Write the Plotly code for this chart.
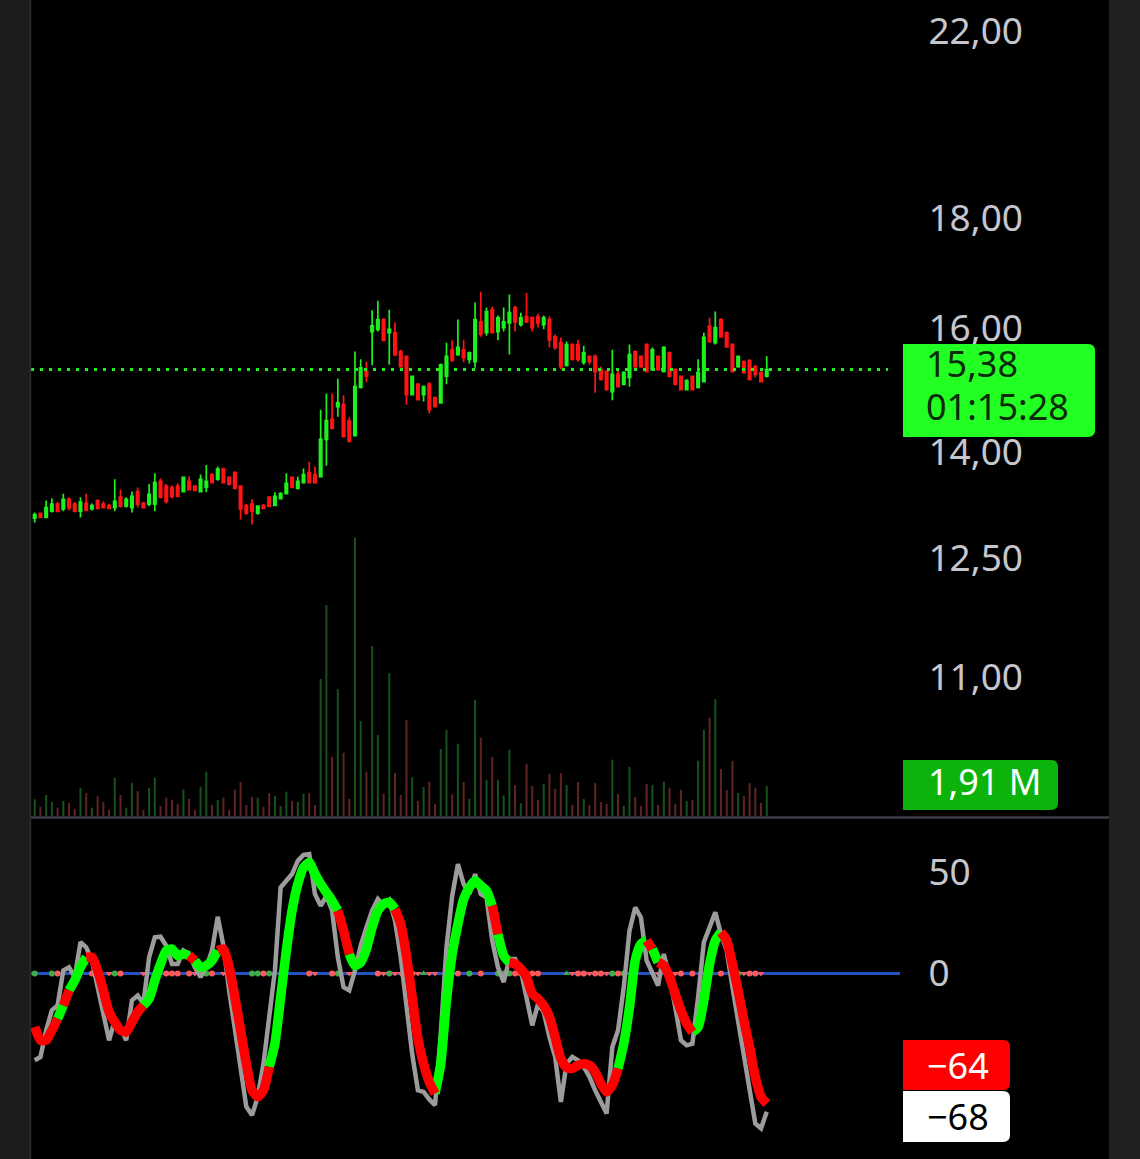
import plotly.graph_objects as go

W, H = 1140, 1159

# ---------------- data ----------------
opens = [13.11, 13.18, 13.12, 13.21, 13.31, 13.24, 13.38, 13.31, 13.21, 13.32,
         13.24, 13.36, 13.31, 13.29, 13.26, 13.41, 13.28, 13.26, 13.49, 13.32,
         13.31, 13.31, 13.64, 13.57, 13.55, 13.57, 13.49, 13.64, 13.57, 13.49,
         13.55, 13.74, 13.67, 13.82, 13.70, 13.77, 13.57, 13.29, 13.31, 13.18,
         13.29, 13.41, 13.29, 13.39, 13.46, 13.70, 13.54, 13.62, 13.77, 13.74,
         13.71, 14.27, 14.58, 14.78, 14.81, 14.55, 14.33, 15.09, 15.35, 16.02,
         16.06, 16.23, 16.00, 16.00, 15.68, 15.60, 14.97, 15.14, 14.97, 15.14,
         14.92, 14.84, 15.27, 15.71, 15.63, 15.71, 15.55, 15.51, 16.19, 16.00,
         16.40, 16.02, 16.09, 16.17, 16.44, 16.14, 16.28, 16.26, 16.28, 16.14,
         16.23, 15.93, 15.83, 15.45, 15.80, 15.80, 15.50, 15.60, 15.60, 15.38,
         15.35, 15.02, 15.30, 15.14, 15.25, 15.68, 15.60, 15.80, 15.38, 15.60,
         15.35, 15.66, 15.38, 15.27, 15.05, 15.27, 15.09, 15.18, 16.11, 15.83,
         16.23, 16.00, 15.80, 15.43, 15.51, 15.53, 15.43, 15.33, 15.27]
highs = [13.19, 13.19, 13.36, 13.39, 13.34, 13.46, 13.41, 13.34, 13.41, 13.46,
         13.32, 13.38, 13.35, 13.31, 13.67, 13.52, 13.41, 13.49, 13.55, 13.34,
         13.60, 13.76, 13.68, 13.60, 13.58, 13.61, 13.71, 13.71, 13.58, 13.74,
         13.88, 13.76, 13.86, 13.84, 13.71, 13.79, 13.58, 13.31, 13.38, 13.29,
         13.31, 13.42, 13.48, 13.48, 13.76, 13.71, 13.71, 13.83, 13.93, 13.86,
         14.73, 14.99, 14.99, 15.23, 14.96, 14.61, 15.68, 15.55, 15.51, 16.39,
         16.56, 16.25, 16.40, 16.18, 15.71, 15.61, 15.28, 15.15, 15.12, 15.17,
         14.94, 15.48, 15.83, 15.87, 16.23, 15.88, 15.68, 16.53, 16.72, 16.44,
         16.46, 16.30, 16.44, 16.67, 16.47, 16.35, 16.70, 16.28, 16.33, 16.30,
         16.28, 15.97, 15.92, 15.85, 15.82, 15.88, 15.78, 15.61, 15.63, 15.43,
         15.36, 15.71, 15.38, 15.35, 15.80, 15.70, 15.61, 15.82, 15.75, 15.61,
         15.77, 15.68, 15.40, 15.28, 15.22, 15.28, 15.55, 16.00, 16.26, 16.37,
         16.25, 16.02, 15.82, 15.61, 15.53, 15.55, 15.45, 15.35, 15.60]
lows = [13.05, 13.11, 13.11, 13.19, 13.19, 13.21, 13.22, 13.19, 13.12, 13.21,
        13.22, 13.24, 13.25, 13.24, 13.21, 13.26, 13.26, 13.19, 13.26, 13.25,
        13.28, 13.21, 13.39, 13.32, 13.39, 13.41, 13.48, 13.51, 13.49, 13.48,
        13.48, 13.61, 13.65, 13.61, 13.58, 13.52, 13.09, 13.16, 13.02, 13.16,
        13.24, 13.26, 13.28, 13.38, 13.45, 13.54, 13.52, 13.61, 13.61, 13.61,
        13.70, 13.87, 14.42, 14.62, 14.30, 14.22, 14.31, 15.07, 15.17, 15.45,
        16.02, 15.86, 15.46, 15.60, 15.41, 14.81, 14.96, 14.88, 14.86, 14.67,
        14.77, 14.83, 15.14, 15.51, 15.61, 15.50, 15.48, 15.41, 15.93, 15.95,
        15.99, 15.87, 16.02, 15.63, 16.02, 16.11, 16.17, 16.02, 16.09, 16.06,
        15.75, 15.71, 15.38, 15.43, 15.53, 15.51, 15.46, 15.46, 15.00, 15.20,
        15.04, 14.88, 15.09, 15.12, 15.10, 15.41, 15.41, 15.33, 15.36, 15.36,
        15.33, 15.25, 15.12, 15.04, 15.04, 15.04, 15.07, 15.17, 15.83, 15.80,
        15.92, 15.75, 15.33, 15.41, 15.31, 15.20, 15.25, 15.17, 15.25]
closes = [13.16, 13.12, 13.26, 13.31, 13.21, 13.38, 13.26, 13.21, 13.34, 13.22,
          13.29, 13.25, 13.26, 13.25, 13.35, 13.28, 13.38, 13.42, 13.31, 13.26,
          13.45, 13.62, 13.41, 13.35, 13.42, 13.42, 13.70, 13.52, 13.51, 13.67,
          13.64, 13.62, 13.82, 13.62, 13.60, 13.54, 13.24, 13.18, 13.21, 13.28,
          13.25, 13.28, 13.42, 13.46, 13.61, 13.55, 13.64, 13.74, 13.62, 13.62,
          14.27, 14.56, 14.44, 14.84, 14.31, 14.24, 15.10, 15.41, 15.27, 16.12,
          16.23, 15.87, 16.06, 15.63, 15.43, 14.97, 15.27, 14.89, 15.10, 14.73,
          14.78, 15.46, 15.60, 15.53, 15.75, 15.58, 15.66, 16.23, 15.97, 16.37,
          16.00, 16.26, 16.19, 16.35, 16.19, 16.26, 16.19, 16.09, 16.17, 16.26,
          15.88, 15.75, 15.43, 15.80, 15.55, 15.55, 15.66, 15.51, 15.35, 15.22,
          15.05, 15.30, 15.10, 15.33, 15.63, 15.43, 15.43, 15.35, 15.71, 15.38,
          15.75, 15.27, 15.14, 15.05, 15.20, 15.05, 15.33, 15.92, 15.85, 16.09,
          15.93, 15.76, 15.35, 15.60, 15.33, 15.22, 15.30, 15.18, 15.38]
# volume in millions
volume = [1.06, 0.59, 1.34, 0.89, 0.53, 0.96, 0.83, 0.46, 1.80, 1.46,
          0.53, 1.27, 0.89, 0.40, 2.44, 1.34, 0.53, 2.10, 1.59, 0.40,
          1.80, 2.44, 0.64, 1.17, 1.04, 0.76, 1.68, 1.10, 0.40, 1.87,
          2.82, 0.70, 1.02, 1.17, 0.40, 1.68, 2.17, 0.70, 1.21, 1.17,
          0.59, 1.46, 1.29, 0.64, 1.55, 0.96, 0.89, 1.42, 1.46, 0.70,
          8.73, 13.44, 3.76, 8.09, 4.03, 1.10, 17.73, 6.05, 2.82, 10.83,
          5.16, 1.42, 9.11, 2.74, 1.34, 6.11, 2.48, 0.96, 1.85, 2.17,
          0.75, 4.27, 5.48, 1.38, 4.61, 2.17, 1.10, 7.39, 4.99, 2.29,
          3.76, 2.31, 1.32, 4.22, 1.97, 0.81, 3.31, 1.91, 1.04, 2.06,
          2.68, 1.74, 2.74, 1.97, 0.70, 2.17, 1.08, 0.70, 2.10, 0.89,
          0.76, 3.59, 1.40, 0.64, 3.12, 1.21, 0.64, 2.04, 1.97, 0.70,
          2.18, 1.80, 0.76, 1.66, 0.96, 1.02, 3.52, 5.50, 6.26, 7.45,
          2.99, 1.66, 3.50, 1.46, 1.27, 2.10, 1.80, 0.83, 1.91]
# oscillator: raw (grey) and smoothed (colored) values
osc_raw = [-42.6, -41.0, -27.9, -18.1, -15.7, 1.5, 3.1, -1.8, 15.4, 12.9,
           6.4, -6.7, -21.4, -32.8, -23.0, -26.3, -32.8, -13.2, -10.8, -14.9,
           8.0, 17.8, 18.1, 13.7, 4.7, 4.7, 11.3, 9.6, 3.1, -1.8,
           3.1, 11.3, 27.9, 13.7, -8.3, -27.9, -47.5, -65.5, -69.6, -60.6,
           -44.3, -21.4, 1.5, 42.3, 45.6, 48.9, 55.4, 58.3, 58.7, 39.1,
           33.3, 38.2, 30.9, 8.0, -6.7, -8.3, 1.5, 13.7, 22.7, 30.9,
           36.6, 33.3, 36.0, 26.0, 8.0, -16.5, -39.4, -57.4, -58.2, -61.9,
           -64.7, -29.6, 12.9, 38.2, 53.8, 44.0, 39.1, 48.9, 39.1, 37.4,
           16.2, 3.1, -4.2, 7.2, 7.2, 1.5, -11.6, -25.5, -14.9, -18.9,
           -31.2, -41.0, -63.1, -44.3, -41.0, -42.6, -45.9, -50.8, -57.4, -63.1,
           -68.8, -36.1, -27.9, -6.7, 21.1, 32.5, 27.6, 6.4, -0.2, -5.9,
           9.6, -1.8, -16.5, -32.8, -35.3, -34.5, -11.6, 15.4, 22.7, 30.1,
           19.4, 11.3, -6.7, -23.0, -39.4, -55.7, -73.7, -76.1, -68.0]
osc_smooth = [-26.3, -32.8, -32.8, -27.9, -22.2, -15.7, -8.3, -3.4, 3.1, 8.0,
              8.0, 1.5, -8.3, -18.9, -23.9, -27.9, -28.8, -23.9, -18.9, -15.7,
              -12.4, -3.4, 4.7, 11.3, 12.1, 8.8, 9.6, 8.8, 6.4, 3.1,
              3.9, 6.4, 11.3, 12.1, 3.1, -11.6, -27.9, -44.3, -57.4, -60.6,
              -57.4, -45.9, -34.5, -11.6, 11.3, 30.9, 44.0, 52.1, 54.6, 48.9,
              44.0, 39.9, 35.8, 30.9, 21.1, 9.6, 3.9, 5.5, 12.1, 22.7,
              30.9, 34.2, 35.0, 31.7, 24.4, 8.8, -11.6, -32.0, -44.3, -53.3,
              -59.0, -44.3, -13.2, 9.6, 24.4, 36.6, 42.3, 45.6, 43.1, 40.7,
              33.3, 19.4, 8.8, 5.5, 4.7, 2.3, -1.8, -10.0, -12.4, -15.7,
              -21.4, -31.2, -41.8, -46.2, -46.7, -45.1, -44.3, -45.1, -48.4, -54.1,
              -58.2, -54.9, -46.7, -34.5, -16.5, 6.4, 14.5, 16.2, 12.1, 5.5,
              3.9, -1.8, -10.0, -18.1, -24.7, -28.8, -26.3, -13.2, 4.7, 16.2,
              20.3, 16.2, 4.7, -8.3, -23.0, -36.1, -50.8, -60.6, -64.0]
# colour state of the smoothed line (segment ending at each bar)
osc_state = ("RRRRR" "G" "R" "GGG" "RRRRRRRRRR" "GGGGGGGG" "R" "GGGG" "RRRRRRRRR"
             "GGGGGGGGGGGG" "RR" "GGGGGGGG" "RRRRRRR" "GGGGGGGGGG" "R" "GG"
             "RRRRRRRRRRRRRRRRRRR" "GGGGG" "R" "G" "RRRRRR" "GGGGG" "RRRRRRRR")
# signal markers on the zero line (bar indices)
sig_green_dot = [0, 3, 14, 29, 30, 38, 39, 41, 53, 62, 76, 81, 82, 83, 101, 103, 123]
sig_red_dot = [4, 10, 15, 23, 24, 25, 27, 31, 40, 48, 52, 60, 66, 74, 78, 84, 85, 86,
               87, 88, 95, 96, 98, 99, 102, 105, 113, 115, 118, 120, 125, 126]
sig_red_tri = [7, 11, 13, 19, 28, 33, 34, 49, 55, 61, 63, 64, 67, 69, 70, 94, 97, 100,
               109, 112, 124, 127]
sig_green_tri = [68, 93]

price_ticks = [11, 12.5, 14, 16, 18, 22]
price_tick_text = ["11,00", "12,50", "14,00", "16,00", "18,00", "22,00"]
osc_ticks = [0, 50]
osc_tick_text = ["0", "50"]

last_price_text = "15,38"
countdown_text = "01:15:28"
last_volume_text = "1,91 M"
osc_smooth_text = "\u221264"
osc_raw_text = "\u221268"

# ---------------- figure ----------------
n = len(closes)
idx = list(range(n))
assert len(osc_state) == n

GREEN = "#1ff01f"
RED = "#ff1414"
FONT = "Noto Sans"

def fx(x):
    return x / W

def fy(y):
    return 1 - y / H

x_dom = [fx(31), fx(900)]
x_rng = [-0.65, 151.3]
price_rng = [0.97866, 1.35938]          # log10 range of the price axis
label_shift = 0.00233                   # price labels sit slightly above their level

fig = go.Figure()

# volume (base axis y)
vcol = ["#17501a" if c >= o else "#5e2424" for o, c in zip(opens, closes)]
fig.add_trace(go.Bar(x=idx, y=volume, marker=dict(color=vcol, line=dict(width=0)),
                     width=0.36, xaxis="x", yaxis="y", showlegend=False, hoverinfo="skip"))

# last price dotted line
fig.add_trace(go.Scatter(x=[x_rng[0], 149.2], y=[closes[-1], closes[-1]], mode="lines",
                         line=dict(color="#22ee22", width=3, dash="3px,6px"),
                         xaxis="x", yaxis="y2", showlegend=False, hoverinfo="skip"))

fig.add_trace(go.Candlestick(
    x=idx, open=opens, high=highs, low=lows, close=closes,
    increasing=dict(line=dict(color=GREEN, width=1.7), fillcolor=GREEN),
    decreasing=dict(line=dict(color=RED, width=1.7), fillcolor=RED),
    whiskerwidth=0, xaxis="x", yaxis="y2", showlegend=False))

# invisible trace carrying the price-label axis
fig.add_trace(go.Scatter(x=[None], y=[None], mode="markers", xaxis="x", yaxis="y4",
                         showlegend=False, hoverinfo="skip"))

# oscillator panel
fig.add_trace(go.Scatter(x=[x_rng[0], x_rng[1]], y=[0, 0], mode="lines",
                         line=dict(color="#2352c4", width=3),
                         xaxis="x2", yaxis="y3", showlegend=False, hoverinfo="skip"))
for pts, sym, col in [(sig_green_dot, "circle", "#3fae48"),
                      (sig_red_dot, "circle", "#ff5a5a"),
                      (sig_red_tri, "triangle-down", "#ff5a5a"),
                      (sig_green_tri, "triangle-up", "#3fae48")]:
    fig.add_trace(go.Scatter(x=pts, y=[0] * len(pts), mode="markers",
                             marker=dict(symbol=sym, size=6, color=col),
                             xaxis="x2", yaxis="y3", showlegend=False, hoverinfo="skip"))

fig.add_trace(go.Scatter(x=idx, y=osc_raw, mode="lines",
                         line=dict(color="#9c9c9c", width=4.5),
                         xaxis="x2", yaxis="y3", showlegend=False))

for key, col in [("G", "#00ff00"), ("R", "#ff0000")]:
    xs, ys = [], []
    i = 1
    while i < n:
        if osc_state[i] == key:
            j = i
            while j + 1 < n and osc_state[j + 1] == key:
                j += 1
            xs += list(range(i - 1, j + 1)) + [None]
            ys += osc_smooth[i - 1:j + 1] + [None]
            i = j + 1
        else:
            i += 1
    fig.add_trace(go.Scatter(x=xs, y=ys, mode="lines",
                             line=dict(color=col, width=9.5, shape="spline", smoothing=0.6),
                             connectgaps=False,
                             xaxis="x2", yaxis="y3", showlegend=False))

tickfont = dict(family=FONT, size=37, color="#c6c6ce")

fig.update_layout(
    width=W, height=H,
    margin=dict(l=0, r=0, t=0, b=0),
    paper_bgcolor="#000000", plot_bgcolor="#000000",
    showlegend=False, boxgap=0.4, hovermode=False,
    xaxis=dict(domain=x_dom, range=x_rng, visible=False, rangeslider=dict(visible=False),
               anchor="y"),
    yaxis=dict(domain=[fy(816), 1], range=[0, 52], visible=False, anchor="x"),
    yaxis2=dict(overlaying="y", anchor="x", side="right", type="log",
                range=price_rng, showticklabels=False, ticks="",
                showgrid=False, zeroline=False, showline=False),
    yaxis4=dict(overlaying="y", anchor="x", side="right", type="log",
                range=[price_rng[0] - label_shift, price_rng[1] - label_shift],
                tickvals=price_ticks, ticktext=price_tick_text,
                showgrid=False, zeroline=False, showline=False,
                ticks="outside", ticklen=20, tickcolor="rgba(0,0,0,0)", tickfont=tickfont),
    xaxis2=dict(domain=x_dom, range=x_rng, visible=False, anchor="y3"),
    yaxis3=dict(domain=[0, fy(819)], range=[-91.18, 75.98], anchor="x2", side="right",
                tickvals=osc_ticks, ticktext=osc_tick_text,
                showgrid=False, zeroline=False, showline=False,
                ticks="outside", ticklen=20, tickcolor="rgba(0,0,0,0)", tickfont=tickfont),
)

def rbox(x0, y0, x1, y1, r=7):
    p = lambda x, y: f"{fx(x):.5f},{fy(y):.5f}"
    return (f"M {p(x0, y0)} L {p(x1 - r, y0)} Q {p(x1, y0)} {p(x1, y0 + r)} "
            f"L {p(x1, y1 - r)} Q {p(x1, y1)} {p(x1 - r, y1)} L {p(x0, y1)} Z")

shapes = [
    dict(type="rect", xref="paper", yref="paper", x0=0, x1=fx(30), y0=0, y1=1,
         fillcolor="#1d1d1d", line=dict(width=0), layer="above"),
    dict(type="line", xref="paper", yref="paper", x0=fx(30.5), x1=fx(30.5), y0=0, y1=1,
         line=dict(color="#2c2c2c", width=1.5), layer="above"),
    dict(type="rect", xref="paper", yref="paper", x0=fx(1109), x1=1, y0=0, y1=1,
         fillcolor="#202020", line=dict(width=0), layer="above"),
    dict(type="line", xref="paper", yref="paper", x0=fx(31), x1=fx(1109),
         y0=fy(817.5), y1=fy(817.5), line=dict(color="#3b3e47", width=2.5), layer="above"),
    dict(type="path", xref="paper", yref="paper", path=rbox(903, 344, 1095, 437),
         fillcolor="#22ff22", line=dict(width=0), layer="above"),
    dict(type="path", xref="paper", yref="paper", path=rbox(903, 760, 1058, 810),
         fillcolor="#0bb30b", line=dict(width=0), layer="above"),
    dict(type="path", xref="paper", yref="paper", path=rbox(903, 1040, 1010, 1090),
         fillcolor="#ff0000", line=dict(width=0), layer="above"),
    dict(type="path", xref="paper", yref="paper", path=rbox(903, 1091, 1010, 1142),
         fillcolor="#ffffff", line=dict(width=0), layer="above"),
]
fig.update_layout(shapes=shapes)

def ann(text, x, y, color):
    return dict(text=text, x=fx(x), y=fy(y), xref="paper", yref="paper",
                xanchor="left", yanchor="middle", showarrow=False,
                font=dict(family=FONT, size=36, color=color))

fig.update_layout(annotations=[
    ann(last_price_text, 924, 364, "#0a2a0a"),
    ann(countdown_text, 924, 406, "#0a2a0a"),
    ann(last_volume_text, 926, 781, "#ffffff"),
    ann(osc_smooth_text, 925, 1065, "#ffffff"),
    ann(osc_raw_text, 925, 1116, "#000000"),
])

fig.write_html("out.html", config={"displayModeBar": False, "staticPlot": True},
               post_script="document.body.style.margin='0';document.body.style.padding='0';"
                           "document.body.style.overflow='hidden';")
